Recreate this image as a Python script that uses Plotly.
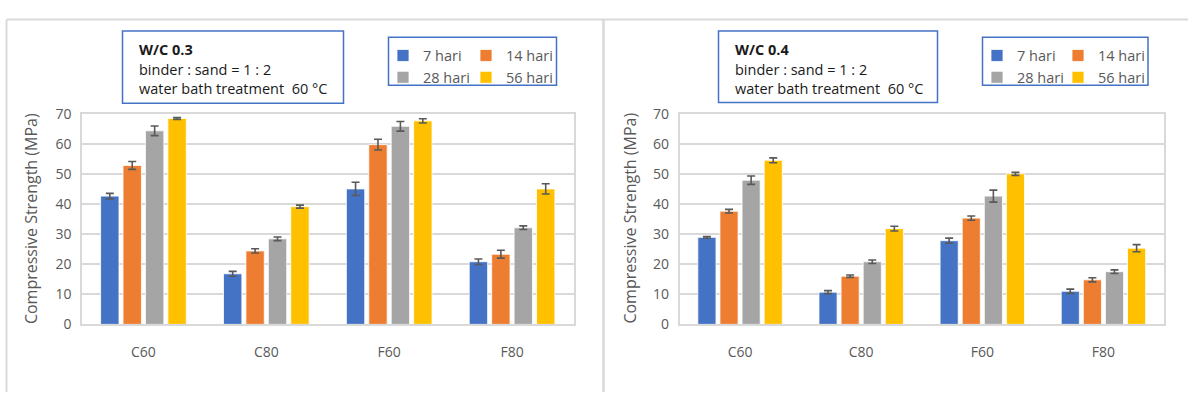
import plotly.graph_objects as go

W, H = 1188, 401

categories = ["C60", "C80", "F60", "F80"]
series_names = ["7 hari", "14 hari", "28 hari", "56 hari"]
colors = ["#4472C4", "#ED7D31", "#A5A5A5", "#FFC000"]

# W/C 0.3
wc03_7 = [42.6, 16.8, 45.0, 20.8]
wc03_14 = [52.8, 24.4, 59.7, 23.3]
wc03_28 = [64.3, 28.4, 65.8, 32.1]
wc03_56 = [68.4, 39.1, 67.6, 45.0]
wc03_7_err = [0.9, 0.8, 2.2, 0.9]
wc03_14_err = [1.3, 0.7, 1.8, 1.3]
wc03_28_err = [1.6, 0.6, 1.6, 0.6]
wc03_56_err = [0.3, 0.5, 0.7, 1.7]

# W/C 0.4
wc04_7 = [28.9, 10.7, 27.8, 11.0]
wc04_14 = [37.6, 16.0, 35.3, 14.8]
wc04_28 = [47.9, 20.8, 42.6, 17.5]
wc04_56 = [54.5, 31.8, 50.0, 25.3]
wc04_7_err = [0.3, 0.5, 0.85, 0.7]
wc04_14_err = [0.6, 0.4, 0.7, 0.7]
wc04_28_err = [1.4, 0.6, 2.0, 0.6]
wc04_56_err = [0.8, 0.8, 0.5, 1.2]

yticks = [0, 10, 20, 30, 40, 50, 60, 70]
y_title = "Compressive Strength (MPa)"
box_left = ["W/C 0.3", "binder : sand = 1 : 2", "water bath treatment  60 °C"]
box_right = ["W/C 0.4", "binder : sand = 1 : 2", "water bath treatment  60 °C"]

FONT = "Open Sans"
GRID = "#D9D9D9"
TXT = "#595959"


def px(x):
    return x / W


def py(y):
    return 1 - y / H


fig = go.Figure()

left_vals = [wc03_7, wc03_14, wc03_28, wc03_56]
left_errs = [wc03_7_err, wc03_14_err, wc03_28_err, wc03_56_err]
right_vals = [wc04_7, wc04_14, wc04_28, wc04_56]
right_errs = [wc04_7_err, wc04_14_err, wc04_28_err, wc04_56_err]
left_leg = ["legend", "legend2", "legend", "legend2"]
right_leg = ["legend3", "legend4", "legend3", "legend4"]

for i in range(4):
    fig.add_trace(go.Bar(
        x=categories, y=left_vals[i], name=series_names[i],
        marker=dict(color=colors[i], line=dict(color="white", width=0.8)),
        error_y=dict(type="data", array=left_errs[i], color="#595959", thickness=1.6, width=4),
        xaxis="x", yaxis="y", legend=left_leg[i], legendgroup="L" + str(i),
    ))
for i in range(4):
    fig.add_trace(go.Bar(
        x=categories, y=right_vals[i], name=series_names[i],
        marker=dict(color=colors[i], line=dict(color="white", width=0.8)),
        error_y=dict(type="data", array=right_errs[i], color="#595959", thickness=1.6, width=4),
        xaxis="x2", yaxis="y2", legend=right_leg[i], legendgroup="R" + str(i),
    ))

ydom = [py(330), py(108.8)]
axis_common_y = dict(
    range=[0, 70], tickvals=yticks, showgrid=True, gridcolor=GRID, gridwidth=1.5,
    showline=True, linecolor=GRID, linewidth=1.5, mirror=True, zeroline=False,
    tickfont=dict(family=FONT, size=14, color=TXT), ticks="", ticklabelstandoff=6,
    fixedrange=True,
)
axis_common_x = dict(
    showline=True, linecolor=GRID, linewidth=1.5, mirror=True, showgrid=False,
    tickfont=dict(family=FONT, size=14, color=TXT), ticks="", ticklabelstandoff=14,
    fixedrange=True,
)

legend_common = dict(
    orientation="v", bgcolor="rgba(0,0,0,0)", borderwidth=0,
    font=dict(family=FONT, size=14.5, color=TXT), xanchor="left", yanchor="top",
    traceorder="grouped", tracegroupgap=0, itemwidth=30,
)

fig.update_layout(
    width=W, height=H, margin=dict(l=0, r=0, t=0, b=0),
    paper_bgcolor="white", plot_bgcolor="white",
    barmode="group", bargap=0.27, bargroupgap=0.18,
    font=dict(family=FONT),
    xaxis=dict(domain=[px(82), px(573.5)], anchor="y", **axis_common_x),
    yaxis=dict(domain=ydom, anchor="x", **axis_common_y),
    xaxis2=dict(domain=[px(679.5), px(1164)], anchor="y2", **axis_common_x),
    yaxis2=dict(domain=ydom, anchor="x2", **axis_common_y),
    legend=dict(x=px(383), y=py(31), **legend_common),
    legend2=dict(x=px(466), y=py(31), **legend_common),
    legend3=dict(x=px(977), y=py(31), **legend_common),
    legend4=dict(x=px(1058), y=py(31), **legend_common),
    showlegend=True,
)

shapes = []
# panel frames
shapes.append(dict(type="line", xref="paper", yref="paper", x0=px(6.5), x1=1, y0=py(10), y1=py(10),
                   line=dict(color=GRID, width=2)))
shapes.append(dict(type="line", xref="paper", yref="paper", x0=px(6.5), x1=px(6.5), y0=0, y1=py(10),
                   line=dict(color=GRID, width=2)))
shapes.append(dict(type="line", xref="paper", yref="paper", x0=px(603.5), x1=px(603.5), y0=0, y1=py(10),
                   line=dict(color=GRID, width=2.5)))
# text boxes and legend boxes
for (x0, x1, y0, y1) in [(122.5, 343.5, 22, 98), (388.5, 556.5, 28.5, 79),
                         (718.5, 937.5, 22, 97), (982.5, 1148, 28.5, 79)]:
    shapes.append(dict(type="rect", xref="paper", yref="paper", x0=px(x0), x1=px(x1),
                       y0=py(y1), y1=py(y0), line=dict(color="#4472C4", width=1.5),
                       fillcolor="rgba(0,0,0,0)"))
fig.update_layout(shapes=shapes)

ann = []
for lines, x0 in [(box_left, 136.5), (box_right, 733)]:
    for j, (t, yy) in enumerate(zip(lines, [41.5, 62, 82.5])):
        ann.append(dict(text=("<b>%s</b>" % t) if j == 0 else t, xref="paper", yref="paper",
                        x=px(x0), y=py(yy), xanchor="left", yanchor="middle", showarrow=False,
                        font=dict(family=FONT, size=14.5, color="#1a1a1a")))
for xc in [30.5, 630]:
    ann.append(dict(text=y_title, xref="paper", yref="paper", x=px(xc), y=py(219),
                    textangle=-90, xanchor="center", yanchor="middle", showarrow=False,
                    font=dict(family=FONT, size=16, color=TXT)))
fig.update_layout(annotations=ann)

fig.write_html("out.html", config={"displayModeBar": False},
               post_script="document.body.style.margin='0';")
